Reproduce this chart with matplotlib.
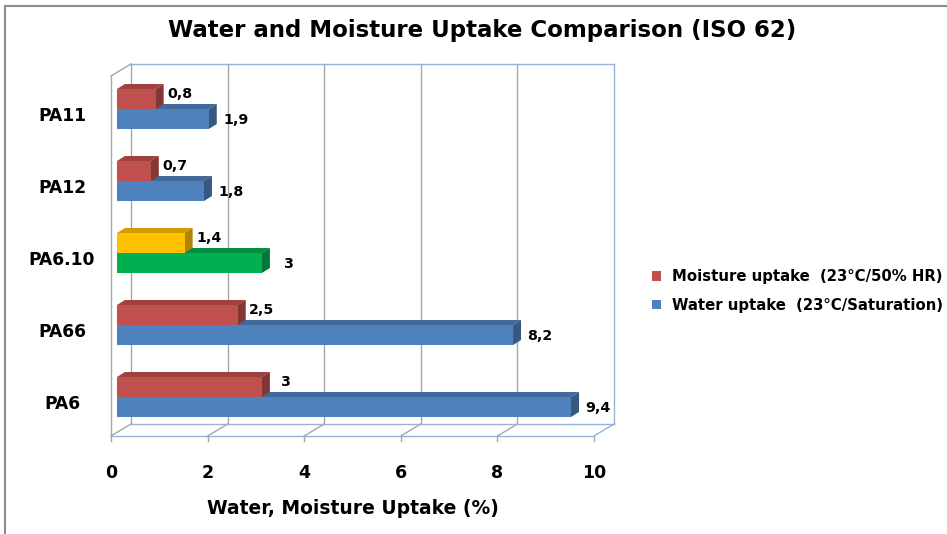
import matplotlib
matplotlib.use('Agg')
import matplotlib.pyplot as plt
from matplotlib.patches import Polygon, Patch
from matplotlib.lines import Line2D
from matplotlib.transforms import IdentityTransform
import numpy as np

# ---------------- data ----------------
categories = ['PA6', 'PA66', 'PA6.10', 'PA12', 'PA11']
moisture = [3.0, 2.5, 1.4, 0.7, 0.8]
water = [9.4, 8.2, 3.0, 1.8, 1.9]
moisture_labels = ['3', '2,5', '1,4', '0,7', '0,8']
water_labels = ['9,4', '8,2', '3', '1,8', '1,9']
moisture_colors = ['#C0504D', '#C0504D', '#FFC000', '#C0504D', '#C0504D']
water_colors = ['#4F81BD', '#4F81BD', '#00B050', '#4F81BD', '#4F81BD']
xticks = [0, 2, 4, 6, 8, 10]
xtick_labels = ['0', '2', '4', '6', '8', '10']
title = 'Water and Moisture Uptake Comparison (ISO 62)'
xlabel = 'Water, Moisture Uptake (%)'
legend_labels = ['Moisture uptake  (23°C/50% HR)', 'Water uptake  (23°C/Saturation)']
legend_colors = ['#C0504D', '#4F81BD']

FONT = 'DejaVu Sans'
W, H = 947, 534
fig = plt.figure(figsize=(W / 100, H / 100), dpi=100)
fig.patch.set_facecolor('white')
ax = fig.add_axes([117 / W, (H - 433) / H, 483 / W, 360 / H])
ax.set_xlim(0, 10)
ax.set_ylim(-0.5, 4.5)
ax.axis('off')

FRONT = np.array([-6.0, -3.0])
BACK = np.array([14.0, 9.0])
DEPTH = np.array([8.0, 5.0])
GRID = '#A6A6A6'
EDGE = '#95B3D7'
ymin, ymax = -0.5, 4.5


def P(x, y, d=(0, 0)):
    return ax.transData.transform((x, y)) + np.asarray(d)


def line(p1, p2, color, lw=1.0, z=1):
    l = Line2D([p1[0], p2[0]], [p1[1], p2[1]], color=color, lw=lw,
               transform=IdentityTransform(), zorder=z, clip_on=False)
    ax.add_line(l)


# back wall gridlines, floor diagonals, tick marks
for v in xticks:
    c = EDGE if v == 10 else GRID
    line(P(v, ymin, BACK), P(v, ymax, BACK), c)
    line(P(v, ymin, BACK), P(v, ymin, FRONT), c)
    line(P(v, ymin, FRONT), P(v, ymin, FRONT + np.array([0, -5])), GRID)
line(P(0, ymax, BACK), P(10, ymax, BACK), EDGE)
line(P(0, ymin, BACK), P(10, ymin, BACK), EDGE)
line(P(0, ymin, FRONT), P(10, ymin, FRONT), EDGE)
# left wall
line(P(0, ymax, BACK), P(0, ymax, FRONT), GRID)
line(P(0, ymax, FRONT), P(0, ymin, FRONT), GRID)


def shade(color, f):
    rgb = np.array(matplotlib.colors.to_rgb(color))
    return tuple(rgb * f)


h = 20 / 72
ypos = np.arange(len(categories))


def bar3d(vals, colors, bottoms, z):
    ax.barh(bottoms, vals, height=h, left=0, align='edge', color=colors,
            zorder=z + 0.2, linewidth=0)
    for v, c, b in zip(vals, colors, bottoms):
        top = [P(0, b + h), P(v, b + h), P(v, b + h, DEPTH), P(0, b + h, DEPTH)]
        side = [P(v, b), P(v, b + h), P(v, b + h, DEPTH), P(v, b, DEPTH)]
        ax.add_patch(Polygon(top, closed=True, facecolor=shade(c, 0.82),
                             edgecolor='none', transform=IdentityTransform(),
                             zorder=z, clip_on=False))
        ax.add_patch(Polygon(side, closed=True, facecolor=shade(c, 0.68),
                             edgecolor='none', transform=IdentityTransform(),
                             zorder=z + 0.1, clip_on=False))


bar3d(water, water_colors, ypos - h, 3)
bar3d(moisture, moisture_colors, ypos, 4)

# data labels
for i in range(len(categories)):
    ax.annotate(moisture_labels[i], xy=(moisture[i], ypos[i] + h / 2),
                xytext=(24, 5), textcoords='offset pixels', ha='center',
                va='center', fontsize=10.2, fontweight='bold', family=FONT,
                annotation_clip=False, zorder=6)
    ax.annotate(water_labels[i], xy=(water[i], ypos[i] - h / 2),
                xytext=(27, -1), textcoords='offset pixels', ha='center',
                va='center', fontsize=10.2, fontweight='bold', family=FONT,
                annotation_clip=False, zorder=6)

# category labels
for i, c in enumerate(categories):
    ax.annotate(c, xy=(0, ypos[i]), xytext=(-55, -7), textcoords='offset pixels',
                ha='center', va='center', fontsize=12.3, fontweight='bold',
                family=FONT, annotation_clip=False)

# tick labels
for v, t in zip(xticks, xtick_labels):
    ax.annotate(t, xy=(v, ymin), xytext=(-6, -40), textcoords='offset pixels',
                ha='center', va='center', fontsize=12.5, fontweight='bold',
                family=FONT, annotation_clip=False)

ax.annotate(xlabel, xy=(0.5, 0), xycoords='axes fraction', xytext=(-6, -75),
            textcoords='offset pixels', ha='center', va='center', fontsize=13.5,
            fontweight='bold', family=FONT, annotation_clip=False)

fig.text(482 / W, 1 - 30 / H, title, ha='center', va='center', fontsize=16.5,
         fontweight='bold', family=FONT)

handles = [Patch(facecolor=c, edgecolor='none') for c in legend_colors]
leg = fig.legend(handles, legend_labels, loc='center left',
                 bbox_to_anchor=(642 / W, 1 - 291 / H), frameon=False,
                 prop={'family': FONT, 'weight': 'bold', 'size': 10.7},
                 handlelength=0.6, handleheight=0.6, handletextpad=0.7,
                 labelspacing=0.9, borderpad=0.2)

# outer border (top and left visible)
fig.add_artist(Line2D([5 / W, 1], [1 - 6 / H, 1 - 6 / H], color='#8C8C8C',
                      lw=1.5, transform=fig.transFigure))
fig.add_artist(Line2D([5 / W, 5 / W], [1 - 6 / H, 0], color='#8C8C8C',
                      lw=1.5, transform=fig.transFigure))

fig.savefig('out.png', dpi=100)
